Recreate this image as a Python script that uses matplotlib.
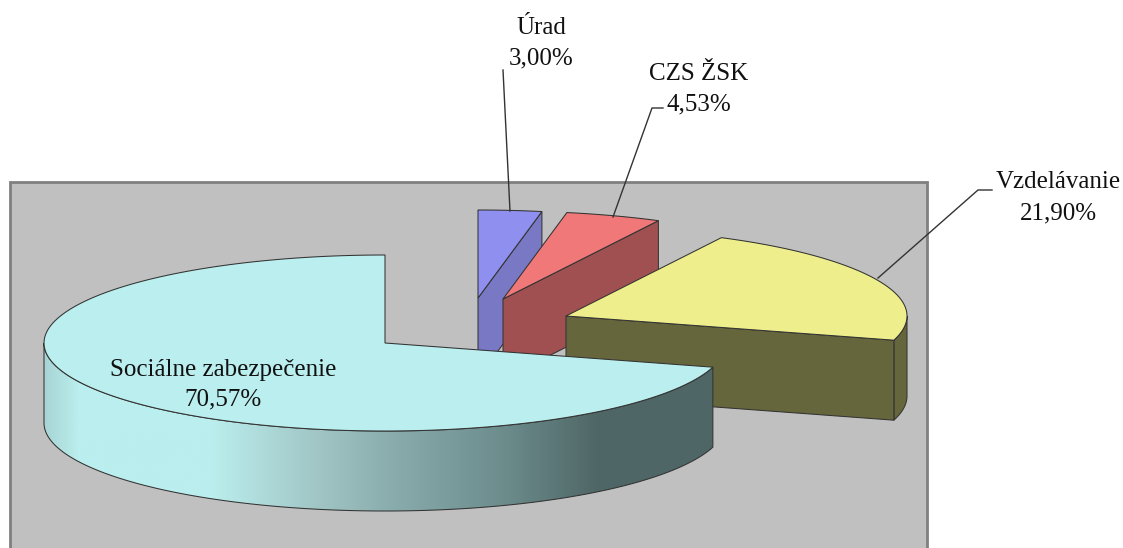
import numpy as np
import matplotlib
matplotlib.use("Agg")
import matplotlib.pyplot as plt
from matplotlib.patches import Polygon, Rectangle
from matplotlib.colors import LinearSegmentedColormap

# Data
categories = ["Úrad", "CZS ŽSK", "Vzdelávanie", "Sociálne zabezpečenie"]
values = [3.00, 4.53, 21.90, 70.57]
value_labels = ["3,00%", "4,53%", "21,90%", "70,57%"]

# Style / layout
top_colors = ["#8F8FF0", "#F07878", "#EEEE8C", "#BBEEEE"]
side_colors = ["#7878C4", "#A05050", "#66663C", None]
centers = [(478, 298), (503, 299), (566, 316), (385, 343)]
RX, RY, DEPTH = 341, 88, 80
W, H = 1123, 548
EDGE = "#333333"
LW = 0.75

plt.rcParams["font.family"] = ["Liberation Serif", "DejaVu Serif"]
fig = plt.figure(figsize=(W / 100, H / 100), dpi=100, facecolor="white")
ax = fig.add_axes([0, 0, 1, 1])
ax.set_xlim(0, W)
ax.set_ylim(H, 0)
ax.axis("off")

ax.add_patch(Rectangle((10, 182), 917, 380, fc="#C0C0C0", ec="#808080", lw=2, zorder=0))


def pt(c, a, dz=0.0):
    """Point on the rim; a is degrees clockwise from 12 o'clock."""
    r = np.radians(a)
    return np.column_stack([c[0] + RX * np.sin(r), c[1] - RY * np.cos(r) + dz])


def arc(c, a0, a1, dz=0.0, n=180):
    return pt(c, np.linspace(a0, a1, n), dz)


start = 0.0
fractions = np.array(values) / sum(values) * 360
z = 2
for i, (frac, c) in enumerate(zip(fractions, centers)):
    a0, a1 = start, start + frac
    start = a1
    c0 = np.array([c])
    if i < 3:
        p = pt(c, np.array([a1]))
        cut = np.vstack([c0, p, p + [0, DEPTH], c0 + [0, DEPTH]])
        if a1 > 90:
            rim_a = np.linspace(90, a1, 40)
            rim = np.vstack([pt(c, rim_a), pt(c, rim_a[::-1], DEPTH)])
            ax.add_patch(Polygon(rim, fc=side_colors[i], ec=EDGE, lw=LW, zorder=z))
        ax.add_patch(Polygon(cut, fc=side_colors[i], ec=EDGE, lw=LW, zorder=z))
    else:
        rim_a = np.linspace(a0, 270, 300)
        wall = np.vstack([pt(c, rim_a), pt(c, rim_a[::-1], DEPTH)])
        ax.add_patch(Polygon(wall, fc="none", ec=EDGE, lw=LW, zorder=z + 0.2))
        cmap = LinearSegmentedColormap.from_list(
            "shade",
            [(0.0, "#A8D4D4"), (0.05, "#BBEEEE"), (0.25, "#BBEEEE"),
             (0.43, "#9DC0C0"), (0.51, "#8BAEAE"), (0.68, "#6E8E8E"),
             (0.83, "#4F6666"), (1.0, "#4F6666")],
        )
        grad = np.linspace(0, 1, 512).reshape(1, -1)
        im = ax.imshow(grad, extent=(44, 713, 520, 340), cmap=cmap, aspect="auto", zorder=z)
        im.set_clip_path(Polygon(wall, transform=ax.transData))
        ax.set_xlim(0, W)
        ax.set_ylim(H, 0)
    top = np.vstack([c0, arc(c, a0, a1)])
    ax.add_patch(Polygon(top, fc=top_colors[i], ec=EDGE, lw=LW, zorder=z + 0.5))
    z += 1

# Leader lines
lc = "#333333"
ax.plot([503, 510], [70, 211], color=lc, lw=1.0, zorder=10)
ax.plot([663, 652, 613], [108, 108, 217], color=lc, lw=1.0, zorder=10)
ax.plot([992, 978, 878], [190, 190, 278], color=lc, lw=1.0, zorder=10)

# Labels
FS = 18
label_pos = [(541, 28, 58), (699, 74, 104), (1058, 182, 213), (223, 370, 399)]
for name, val, (x, y1, y2) in zip(categories, value_labels, label_pos):
    ax.text(x, y1, name, ha="center", va="center", fontsize=FS, color="#111111", zorder=11)
    ax.text(x, y2, val, ha="center", va="center", fontsize=FS, color="#111111", zorder=11)

fig.savefig("out.png", dpi=100, facecolor="white")
